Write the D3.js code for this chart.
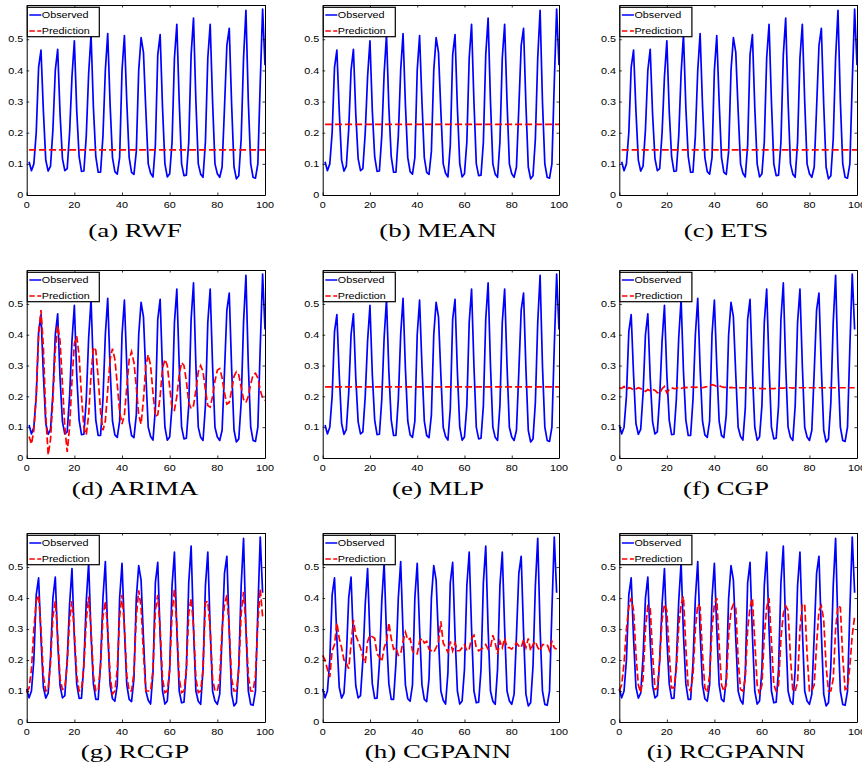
<!DOCTYPE html>
<html>
<head>
<meta charset="utf-8">
<script src="https://cdn.jsdelivr.net/npm/d3@7/dist/d3.min.js"></script>
<style>
  html, body { margin: 0; padding: 0; background: #fff; }
  svg { display: block; }
</style>
</head>
<body>
<svg id="chart" width="862" height="772"></svg>
<script>
// Observed demand series (100 samples)
const observed = [
  0.107, 0.078, 0.100, 0.200, 0.410, 0.465, 0.270, 0.112, 0.077, 0.093,
  0.210, 0.400, 0.468, 0.260, 0.117, 0.078, 0.085, 0.200, 0.380, 0.495,
  0.270, 0.123, 0.076, 0.077, 0.190, 0.390, 0.515, 0.280, 0.123, 0.073,
  0.073, 0.190, 0.400, 0.518, 0.290, 0.120, 0.075, 0.067, 0.120, 0.400,
  0.512, 0.300, 0.120, 0.073, 0.066, 0.140, 0.400, 0.505, 0.458, 0.270,
  0.100, 0.070, 0.058, 0.160, 0.450, 0.515, 0.280, 0.100, 0.058, 0.068,
  0.170, 0.440, 0.548, 0.300, 0.100, 0.062, 0.064, 0.170, 0.450, 0.568,
  0.300, 0.100, 0.067, 0.057, 0.170, 0.440, 0.548, 0.300, 0.100, 0.068,
  0.057, 0.090, 0.280, 0.480, 0.535, 0.290, 0.090, 0.052, 0.062, 0.180,
  0.440, 0.593, 0.300, 0.100, 0.057, 0.054, 0.100, 0.360, 0.597, 0.417
];

// Flat forecasts
const rwfLevel = 0.145;
const meanLevel = 0.227;
const etsLevel = 0.145;
const mlpLevel = 0.231;

// ARIMA forecast
const arimaPred = [
  0.070, 0.045, 0.090, 0.200, 0.400, 0.480, 0.360, 0.140, 0.010, 0.060,
  0.190, 0.350, 0.430, 0.380, 0.240, 0.100, 0.020, 0.100, 0.250, 0.370,
  0.395, 0.330, 0.200, 0.100, 0.075, 0.140, 0.270, 0.360, 0.350, 0.260,
  0.150, 0.090, 0.120, 0.220, 0.320, 0.355, 0.320, 0.240, 0.150, 0.110,
  0.140, 0.230, 0.320, 0.345, 0.310, 0.230, 0.140, 0.110, 0.190, 0.300,
  0.335, 0.300, 0.210, 0.135, 0.140, 0.200, 0.290, 0.320, 0.300, 0.230,
  0.160, 0.155, 0.200, 0.270, 0.310, 0.300, 0.250, 0.180, 0.160, 0.170,
  0.220, 0.280, 0.300, 0.280, 0.220, 0.170, 0.165, 0.200, 0.250, 0.285,
  0.290, 0.260, 0.210, 0.175, 0.180, 0.220, 0.265, 0.280, 0.270, 0.230,
  0.190, 0.180, 0.200, 0.240, 0.270, 0.275, 0.260, 0.220, 0.195, 0.187
];

// CGP forecast
const cgpPred = [
  0.228, 0.226, 0.232, 0.222, 0.228, 0.226, 0.220, 0.224, 0.228, 0.225,
  0.222, 0.216, 0.222, 0.218, 0.222, 0.220, 0.212, 0.210, 0.225, 0.232,
  0.212, 0.222, 0.228, 0.225, 0.226, 0.230, 0.226, 0.228, 0.229, 0.228,
  0.230, 0.230, 0.229, 0.230, 0.229, 0.228, 0.230, 0.232, 0.234, 0.238,
  0.236, 0.232, 0.235, 0.231, 0.229, 0.229, 0.228, 0.229, 0.228, 0.228,
  0.229, 0.228, 0.228, 0.228, 0.229, 0.228, 0.227, 0.227, 0.226, 0.226,
  0.225, 0.225, 0.224, 0.225, 0.225, 0.225, 0.226, 0.227, 0.227, 0.227,
  0.228, 0.228, 0.228, 0.227, 0.228, 0.228, 0.228, 0.228, 0.228, 0.228,
  0.228, 0.228, 0.228, 0.228, 0.228, 0.228, 0.228, 0.228, 0.228, 0.228,
  0.228, 0.228, 0.228, 0.228, 0.228, 0.228, 0.228, 0.228, 0.228, 0.228
];

// RCGP forecast
const rcgpPred = [
  0.095, 0.110, 0.170, 0.300, 0.390, 0.410, 0.300, 0.150, 0.100, 0.105,
  0.190, 0.340, 0.390, 0.280, 0.140, 0.105, 0.110, 0.190, 0.330, 0.390,
  0.290, 0.150, 0.100, 0.105, 0.180, 0.330, 0.405, 0.300, 0.150, 0.100,
  0.100, 0.180, 0.340, 0.390, 0.300, 0.150, 0.090, 0.100, 0.170, 0.340,
  0.410, 0.310, 0.150, 0.100, 0.100, 0.160, 0.340, 0.425, 0.370, 0.220,
  0.100, 0.100, 0.100, 0.170, 0.360, 0.410, 0.300, 0.140, 0.095, 0.100,
  0.170, 0.350, 0.430, 0.310, 0.140, 0.095, 0.100, 0.170, 0.350, 0.400,
  0.310, 0.140, 0.095, 0.100, 0.170, 0.385, 0.390, 0.300, 0.140, 0.100,
  0.100, 0.140, 0.300, 0.380, 0.410, 0.300, 0.140, 0.100, 0.100, 0.170,
  0.350, 0.420, 0.310, 0.150, 0.100, 0.100, 0.150, 0.320, 0.430, 0.340
];

// CGPANN forecast
const cgpannPred = [
  0.215, 0.200, 0.170, 0.145, 0.230, 0.250, 0.320, 0.270, 0.240, 0.200,
  0.190, 0.172, 0.250, 0.330, 0.280, 0.260, 0.240, 0.210, 0.190, 0.260,
  0.280, 0.275, 0.270, 0.220, 0.210, 0.195, 0.240, 0.260, 0.320, 0.270,
  0.235, 0.240, 0.215, 0.220, 0.260, 0.290, 0.265, 0.270, 0.230, 0.220,
  0.220, 0.260, 0.270, 0.255, 0.260, 0.235, 0.230, 0.225, 0.240, 0.260,
  0.325, 0.255, 0.240, 0.225, 0.260, 0.230, 0.255, 0.230, 0.230, 0.240,
  0.250, 0.230, 0.235, 0.270, 0.280, 0.240, 0.230, 0.235, 0.240, 0.250,
  0.235, 0.240, 0.280, 0.255, 0.220, 0.260, 0.240, 0.270, 0.240, 0.240,
  0.235, 0.245, 0.255, 0.245, 0.240, 0.265, 0.240, 0.270, 0.230, 0.250,
  0.260, 0.240, 0.230, 0.250, 0.250, 0.250, 0.230, 0.260, 0.240, 0.235
];

// RCGPANN forecast
const rcgpannPred = [
  0.100, 0.120, 0.190, 0.300, 0.370, 0.400, 0.360, 0.220, 0.120, 0.095,
  0.140, 0.300, 0.375, 0.370, 0.220, 0.105, 0.110, 0.200, 0.330, 0.380,
  0.360, 0.220, 0.110, 0.110, 0.170, 0.310, 0.380, 0.405, 0.240, 0.110,
  0.100, 0.150, 0.300, 0.380, 0.370, 0.220, 0.110, 0.095, 0.150, 0.300,
  0.380, 0.400, 0.250, 0.120, 0.100, 0.120, 0.280, 0.360, 0.380, 0.370,
  0.200, 0.105, 0.100, 0.140, 0.300, 0.370, 0.400, 0.260, 0.120, 0.090,
  0.120, 0.280, 0.370, 0.400, 0.260, 0.120, 0.100, 0.120, 0.270, 0.350,
  0.375, 0.360, 0.210, 0.100, 0.100, 0.130, 0.300, 0.380, 0.380, 0.220,
  0.100, 0.100, 0.120, 0.250, 0.360, 0.375, 0.330, 0.180, 0.100, 0.100,
  0.140, 0.300, 0.375, 0.370, 0.210, 0.105, 0.110, 0.180, 0.280, 0.340
];

const captions = ["(a) RWF", "(b) MEAN", "(c) ETS", "(d) ARIMA", "(e) MLP",
                  "(f) CGP", "(g) RCGP", "(h) CGPANN", "(i) RCGPANN"];
const xTicks = [0, 20, 40, 60, 80, 100];
const yTicks = [0, 0.1, 0.2, 0.3, 0.4, 0.5];
const xDomain = [0, 100];
const yDomain = [0, 0.61];

const flat = level => observed.map(() => level);
const predictions = [flat(rwfLevel), flat(meanLevel), flat(etsLevel), arimaPred,
                     flat(mlpLevel), cgpPred, rcgpPred, cgpannPred, rcgpannPred];
// first time index of each panel's series
const firstIndex = [1, 1, 1, 1, 1, 0, 0, 0, 0];

// layout of the 3x3 grid
const colLeft = [26.7, 322.7, 619.3];
const colRight = [265, 559, 857];
const rowTop = [5, 270, 533];
const rowBottom = [195, 458, 722];
const capX = [135, 438, 726];
const capY = [237, 495, 758];

const BLUE = "#0000ff", RED = "#ff0000";
const SANS = "'Liberation Sans', Arial, sans-serif";
const SERIF = "'Liberation Serif', 'Times New Roman', serif";
const stretch = 1.2;     // horizontal stretch of sans labels
const capStretch = 1.42; // horizontal stretch of captions
const DASH = "7,3";

const svg = d3.select("#chart");

captions.forEach((cap, k) => {
  const r = Math.floor(k / 3), c = k % 3;
  const L = colLeft[c], R = colRight[c], T = rowTop[r], B = rowBottom[r];
  const x = d3.scaleLinear().domain(xDomain).range([L, R]);
  const y = d3.scaleLinear().domain(yDomain).range([B, T]);
  const g = svg.append("g");

  const t0 = firstIndex[k];
  const obsPts = observed.map((v, i) => [i + t0, v]);
  const predPts = predictions[k].map((v, i) => [i + t0, v]);
  const line = d3.line().x(d => x(d[0])).y(d => y(d[1]));

  g.append("path").attr("d", line(obsPts))
    .attr("fill", "none").attr("stroke", BLUE).attr("stroke-width", 1.7)
    .attr("stroke-linejoin", "round");
  g.append("path").attr("d", line(predPts))
    .attr("fill", "none").attr("stroke", RED).attr("stroke-width", 1.7)
    .attr("stroke-dasharray", DASH);

  // box with inward ticks on all four sides
  const tick = 2.5;
  const axes = [
    [d3.axisBottom(x).tickValues(xTicks), `translate(0,${B})`],
    [d3.axisTop(x).tickValues(xTicks), `translate(0,${T})`],
    [d3.axisLeft(y).tickValues(yTicks), `translate(${L},0)`],
    [d3.axisRight(y).tickValues(yTicks), `translate(${R},0)`]
  ];
  axes.forEach(([ax, tr]) => {
    const a = g.append("g").attr("transform", tr)
      .call(ax.tickSizeInner(-tick).tickSizeOuter(0).tickFormat(""));
    a.select(".domain").attr("stroke", "#000").attr("stroke-width", 1);
    a.selectAll(".tick line").attr("stroke", "#000").attr("stroke-width", 0.8);
  });

  // tick labels
  g.selectAll(".xl").data(xTicks).enter().append("text")
    .attr("transform", d => `translate(${x(d)},${B + 12.5}) scale(${stretch},1)`)
    .attr("text-anchor", "middle")
    .attr("font-family", SANS).attr("font-size", 9).attr("fill", "#000")
    .text(d => d3.format("d")(d));
  g.selectAll(".yl").data(yTicks).enter().append("text")
    .attr("transform", d => `translate(${L - 3.4},${y(d) + 3.2}) scale(${stretch},1)`)
    .attr("text-anchor", "end")
    .attr("font-family", SANS).attr("font-size", 9).attr("fill", "#000")
    .text(d => d === 0 ? "0" : d3.format(".1f")(d));

  // legend
  const lg = g.append("g").attr("transform", `translate(${L + 0.6},${T + 2.3})`);
  lg.append("rect").attr("width", 72).attr("height", 29.4)
    .attr("fill", "#fff").attr("stroke", "#000").attr("stroke-width", 1.2);
  const entries = [["Observed", BLUE, null], ["Prediction", RED, "5.5,2.5"]];
  entries.forEach(([label, col, dash], i) => {
    const yy = 7.7 + i * 16;
    lg.append("line").attr("x1", 2).attr("x2", 14).attr("y1", yy).attr("y2", yy)
      .attr("stroke", col).attr("stroke-width", 1.5)
      .attr("stroke-dasharray", dash);
    lg.append("text")
      .attr("transform", `translate(14.5,${yy + 3.2}) scale(${stretch},1)`)
      .attr("font-family", SANS).attr("font-size", 9).attr("fill", "#000")
      .text(label);
  });

  // caption
  svg.append("text")
    .attr("transform", `translate(${capX[c]},${capY[r]}) scale(${capStretch},1)`)
    .attr("text-anchor", "middle")
    .attr("font-family", SERIF).attr("font-size", 19).attr("fill", "#000")
    .text(cap);
});
</script>
</body>
</html>
